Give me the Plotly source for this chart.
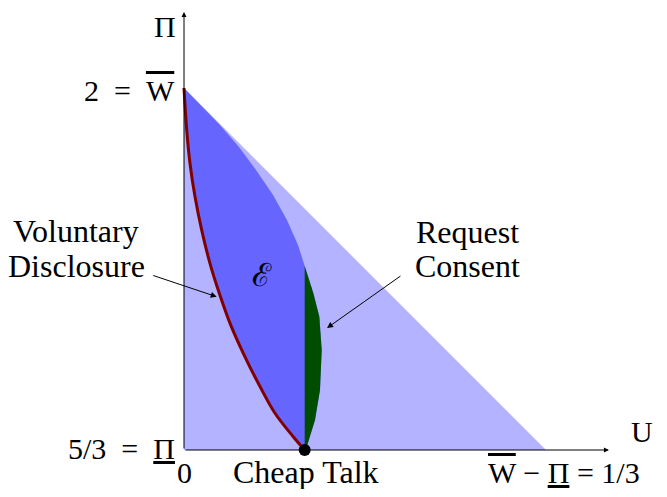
import plotly.graph_objects as go

# Feasible payoff triangle (U, Pi)
tri_u = [0, 0, 1/3]
tri_pi = [5/3, 2, 5/3]

# Outer boundary of the equilibrium set, from the top vertex down to cheap talk
outer_u = [0, 0.0152, 0.0331, 0.0506, 0.0663, 0.0820, 0.0948, 0.1050, 1/9,
           0.1191, 0.1246, 0.1268, 0.1252, 0.1206, 0.1130, 1/9]
outer_pi = [2.0, 1.9844, 1.9659, 1.9457, 1.9245, 1.9015, 1.8785, 1.8554, 1.8361,
            1.8110, 1.7894, 1.7587, 1.7219, 1.6943, 1.6697, 5/3]

# Voluntary disclosure frontier (red curve)
red_u = [0, 0.0025, 0.0055, 0.0101, 0.0163, 0.0239, 0.0325, 0.0424, 0.0546,
         0.0684, 0.0838, 0.1006, 1/9]
red_pi = [2.0, 1.9613, 1.9307, 1.9000, 1.8692, 1.8386, 1.8110, 1.7833, 1.7557,
          1.7281, 1.7005, 1.6789, 5/3]

cheap_talk = (1/9, 5/3)

LIGHT = "#b3b3ff"
DARK = "#6666ff"
GREEN = "#004d00"
RED = "#800000"
FONT = "Liberation Serif, DejaVu Serif, serif"

fig = go.Figure()

# light triangle
fig.add_trace(go.Scatter(x=tri_u, y=tri_pi, fill="toself", fillcolor=LIGHT,
                         mode="lines", line=dict(width=0), hoverinfo="skip"))

# equilibrium set E: outer boundary then red curve back up
e_u = outer_u + red_u[::-1]
e_pi = outer_pi + red_pi[::-1]
fig.add_trace(go.Scatter(x=e_u, y=e_pi, fill="toself", fillcolor=DARK,
                         mode="lines", line=dict(width=0), hoverinfo="skip"))

# request consent part: right of U = 1/9
g_u = [u for u in outer_u if u >= 1/9 - 1e-9]
g_pi = [p for u, p in zip(outer_u, outer_pi) if u >= 1/9 - 1e-9]
fig.add_trace(go.Scatter(x=g_u + [g_u[0]], y=g_pi + [g_pi[0]], fill="toself", fillcolor=GREEN,
                         mode="lines", line=dict(width=0), hoverinfo="skip"))

# red curve
fig.add_trace(go.Scatter(x=red_u, y=red_pi, mode="lines",
                         line=dict(color=RED, width=3, shape="spline"), hoverinfo="skip"))

# axes
x_end = 0.3913
y_end = 2.0700
fig.add_annotation(x=x_end, y=5/3, ax=0, ay=5/3, xref="x", yref="y", axref="x", ayref="y",
                   text="", showarrow=True, arrowhead=2, arrowsize=1, arrowwidth=1, arrowcolor="black")
fig.add_annotation(x=0, y=y_end, ax=0, ay=5/3, xref="x", yref="y", axref="x", ayref="y",
                   text="", showarrow=True, arrowhead=2, arrowsize=1, arrowwidth=1, arrowcolor="black")

# cheap talk dot
fig.add_trace(go.Scatter(x=[cheap_talk[0]], y=[cheap_talk[1]], mode="markers",
                         marker=dict(color="black", size=12), hoverinfo="skip"))

# pointer arrows
fig.add_annotation(x=0.0301, y=1.8078, ax=-0.0297, ay=1.8278, xref="x", yref="y",
                   axref="x", ayref="y", text="", showarrow=True, arrowhead=2,
                   arrowsize=1.2, arrowwidth=1, arrowcolor="black")
fig.add_annotation(x=0.1317, y=1.7790, ax=0.2007, ay=1.8278, xref="x", yref="y",
                   axref="x", ayref="y", text="", showarrow=True, arrowhead=2,
                   arrowsize=1.2, arrowwidth=1, arrowcolor="black")

OL = '<span style="text-decoration:overline">%s</span>'
UL = '<span style="text-decoration:underline">%s</span>'
SP = "\u2002"

labels = [
    # text, u, pi, xanchor, size
    ("2" + SP + "=" + SP + OL % "W", -0.0064, 1.998, "right", 30),
    ("5/3" + SP + "=" + SP + UL % "Π", -0.0064, 1.6676, "right", 30),
    ("0", 0.0009, 1.6464, "center", 30),
    ("Cheap Talk", 0.1123, 1.6464, "center", 32),
    (OL % "W" + " − " + UL % "Π" + " = 1/3", 0.3499, 1.6464, "center", 30),
    ("U", 0.4217, 1.6833, "center", 30),
    ("Voluntary", -0.0994, 1.8683, "center", 32),
    ("Disclosure", -0.0994, 1.8361, "center", 32),
    ("Request", 0.2615, 1.8674, "center", 32),
    ("Consent", 0.2615, 1.8361, "center", 32),
]
for text, u, p, xa, size in labels:
    fig.add_annotation(x=u, y=p, xref="x", yref="y", text=text, showarrow=False,
                       xanchor=xa, yanchor="middle",
                       font=dict(family=FONT, size=size, color="black"))

# axis name on top, kept inside the page
fig.add_annotation(x=-0.0175, y=1, xref="x", yref="paper", text="Π", showarrow=False,
                   xanchor="center", yanchor="top",
                   font=dict(family=FONT, size=30, color="black"))

fig.add_annotation(x=0.0718, y=1.8278, xref="x", yref="y", text="ℰ", showarrow=False,
                   font=dict(family="DejaVu Serif, serif", size=32, color="black"))

# the page adds an 8px body margin, so the figure is 16px smaller than the window
fig.update_layout(
    width=651, height=481,
    margin=dict(l=0, r=0, t=0, b=0),
    plot_bgcolor="white", paper_bgcolor="white",
    showlegend=False,
    xaxis=dict(range=[-0.162063, 0.437385], visible=False, fixedrange=True),
    yaxis=dict(range=[1.630755, 2.073665], visible=False, fixedrange=True),
)

fig.write_html("out.html")
